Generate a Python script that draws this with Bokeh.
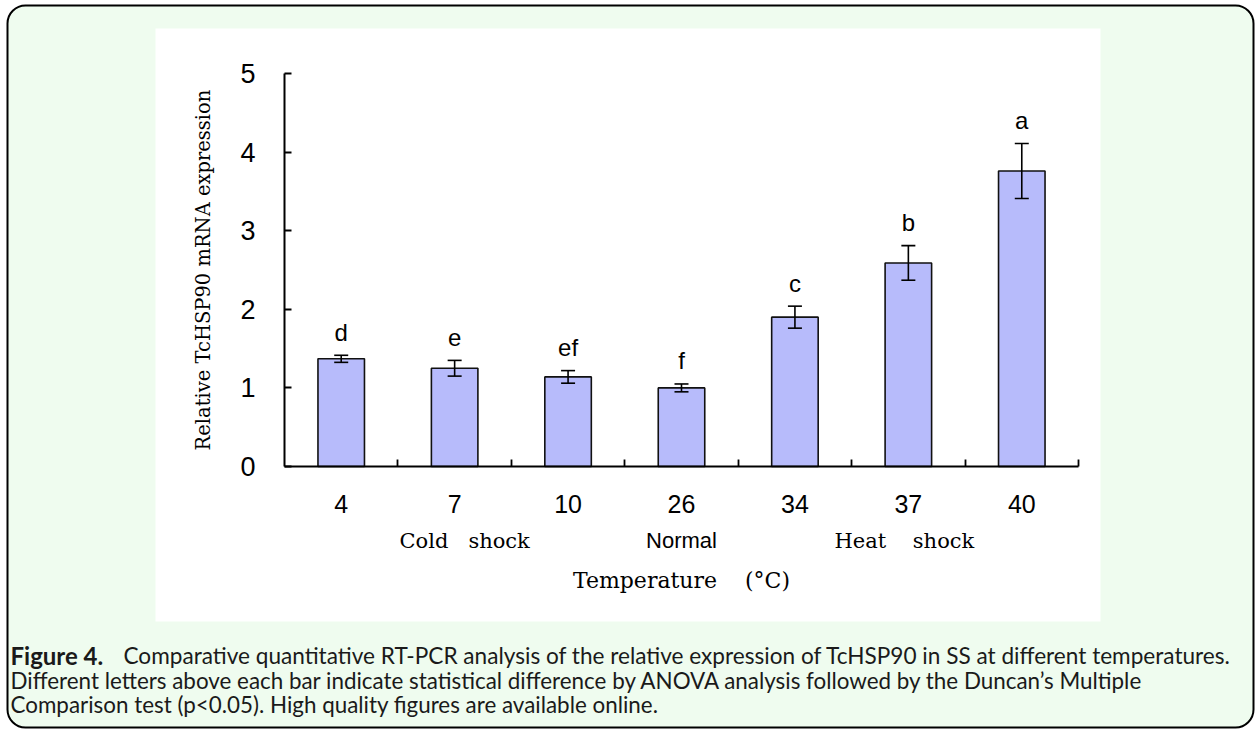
import numpy as np
from bokeh.plotting import figure
from bokeh.models import (Range1d, FixedTicker, BoxAnnotation, Label, Whisker,
                          TeeHead, ColumnDataSource)
from bokeh.core.properties import value
from bokeh.embed import file_html
from bokeh.resources import INLINE

# ---------------- data ----------------
temperatures = ["4", "7", "10", "26", "34", "37", "40"]
expression = [1.37, 1.25, 1.14, 1.00, 1.90, 2.59, 3.76]
std_error = [0.045, 0.10, 0.08, 0.05, 0.14, 0.22, 0.35]
letters = ["d", "e", "ef", "f", "c", "b", "a"]
group_names = ["Cold\u00a0\u00a0\u00a0shock", "Normal", "Heat\u00a0\u00a0\u00a0\u00a0shock"]
group_members = [["4", "7", "10"], ["26"], ["34", "37", "40"]]
y_ticks = [0, 1, 2, 3, 4, 5]
y_label = "Relative TcHSP90 mRNA expression"
x_label = "Temperature\u00a0\u00a0\u00a0\u00a0(°C)"
caption_bold = "Figure 4."
caption_lines = [
    "Comparative quantitative RT-PCR analysis of the relative expression of TcHSP90 in SS at different temperatures.",
    "Different letters above each bar indicate statistical difference by ANOVA analysis followed by the Duncan\u2019s Multiple",
    "Comparison test (p<0.05). High quality figures are available online.",
]

# ---------------- layout constants (pixels) ----------------
W, H = 1256, 730
AX0, AY0 = 284.0, 466.0          # pixel position of the axes' origin corner
PX = 794.0 / 7                   # px per category
PY = 393.0 / 5                   # px per unit of expression
GREEN = "#effcef"
BAR = "#b7bbfb"
SERIF = "DejaVu Serif"
SANS = "Liberation Sans"
CAP_FONT = "Lato"

n = len(temperatures)
x = np.arange(1, n + 1)
upper = [m + e for m, e in zip(expression, std_error)]
lower = [m - e for m, e in zip(expression, std_error)]
src = ColumnDataSource(dict(x=x, top=expression, upper=upper, lower=lower,
                            letter=letters))

# pixel -> data helpers (used only for layout annotations)
def dx(px):
    return 0.5 + (px - AX0) / PX

def dy(py):
    return (AY0 - py) / PY

p = figure(width=W, height=H,
           x_range=Range1d(dx(0), dx(W)), y_range=Range1d(dy(H), dy(0)),
           output_backend="svg", toolbar_location=None, min_border=0,
           background_fill_color="white", border_fill_color="white",
           outline_line_color=None)
p.title.visible = False
p.grid.visible = False

# rounded green card, white chart panel
p.add_layout(BoxAnnotation(left=dx(7), right=dx(1253), top=dy(5), bottom=dy(727),
                           fill_color=GREEN, fill_alpha=1, line_color="black",
                           line_alpha=1, line_width=2, border_radius=18,
                           level="underlay"))
p.add_layout(BoxAnnotation(left=dx(155), right=dx(1100), top=dy(28), bottom=dy(621),
                           fill_color="white", fill_alpha=1, line_color=None,
                           level="underlay"))

# bars
p.vbar(x="x", top="top", width=0.41, bottom=0, source=src, fill_color=BAR,
       line_color="#111111", line_width=1.6)

# error bars
p.add_layout(Whisker(source=src, base="x", upper="upper", lower="lower",
                     line_width=1.6, line_color="black", level="annotation",
                     upper_head=TeeHead(size=14, line_width=1.6, line_color="black"),
                     lower_head=TeeHead(size=14, line_width=1.6, line_color="black")))

# significance letters
p.text(x="x", y="upper", text="letter", source=src, y_offset=-23,
       text_align="center", text_baseline="middle",
       text_font=value(SANS), text_font_size="24px", text_color="black")

# x axis
xa = p.xaxis[0]
xa.fixed_location = 0
xa.bounds = (0.5, n + 0.5)
xa.ticker = FixedTicker(ticks=list(x), minor_ticks=list(x + 0.5))
xa.major_label_overrides = {int(i): t for i, t in zip(x, temperatures)}
xa.major_tick_line_color = None
xa.minor_tick_in = 7
xa.minor_tick_out = 0
xa.minor_tick_line_width = 1.8
xa.minor_tick_line_color = "black"
xa.axis_line_width = 2
xa.axis_line_color = "black"
xa.major_label_standoff = 22
xa.major_label_text_font = SANS
xa.major_label_text_font_size = "25px"
xa.major_label_text_color = "black"
xa.axis_label = x_label
xa.axis_label_text_font = SERIF
xa.axis_label_text_font_size = "22px"
xa.axis_label_text_font_style = "normal"
xa.axis_label_text_color = "black"
xa.axis_label_standoff = 52

# y axis
ya = p.yaxis[0]
ya.fixed_location = 0.5
ya.bounds = (0, 5)
ya.ticker = FixedTicker(ticks=y_ticks)
ya.major_tick_in = 7
ya.major_tick_out = 0
ya.major_tick_line_width = 1.8
ya.major_tick_line_color = "black"
ya.minor_tick_line_color = None
ya.axis_line_width = 2
ya.axis_line_color = "black"
ya.major_label_standoff = 29
ya.major_label_text_font = SANS
ya.major_label_text_font_size = "27px"
ya.major_label_text_color = "black"
ya.axis_label = y_label
ya.axis_label_text_font = SERIF
ya.axis_label_text_font_size = "19.5px"
ya.axis_label_text_font_style = "normal"
ya.axis_label_text_color = "black"
ya.axis_label_standoff = 22

# group labels under the temperatures
idx = {t: i + 1 for i, t in enumerate(temperatures)}
group_fonts = [(SERIF, "21px", 10), (SANS, "22px", 0), (SERIF, "21px", -4)]
for name, members, (font, size, xoff) in zip(group_names, group_members, group_fonts):
    gx = float(np.mean([idx[m] for m in members]))
    p.add_layout(Label(x=gx, y=dy(540), text=name, x_offset=xoff,
                       text_align="center", text_baseline="middle",
                       text_font=font, text_font_size=size, text_color="black"))

# caption
cap_y = [655, 680, 704]
p.add_layout(Label(x=dx(10), y=dy(cap_y[0]), text=caption_bold, text_font=CAP_FONT,
                   text_font_style="bold", text_font_size="24px",
                   text_align="left", text_baseline="middle", text_color="#1a1a1a"))
p.add_layout(Label(x=dx(123), y=dy(cap_y[0]), text=caption_lines[0], text_font=CAP_FONT,
                   text_font_size="22.6px", text_align="left", text_baseline="middle",
                   text_color="#1a1a1a"))
for line, yy in zip(caption_lines[1:], cap_y[1:]):
    p.add_layout(Label(x=dx(10), y=dy(yy), text=line, text_font=CAP_FONT,
                       text_font_size="22.4px", text_align="left",
                       text_baseline="middle", text_color="#1a1a1a"))

open("out.html", "w").write(file_html(p, INLINE))
